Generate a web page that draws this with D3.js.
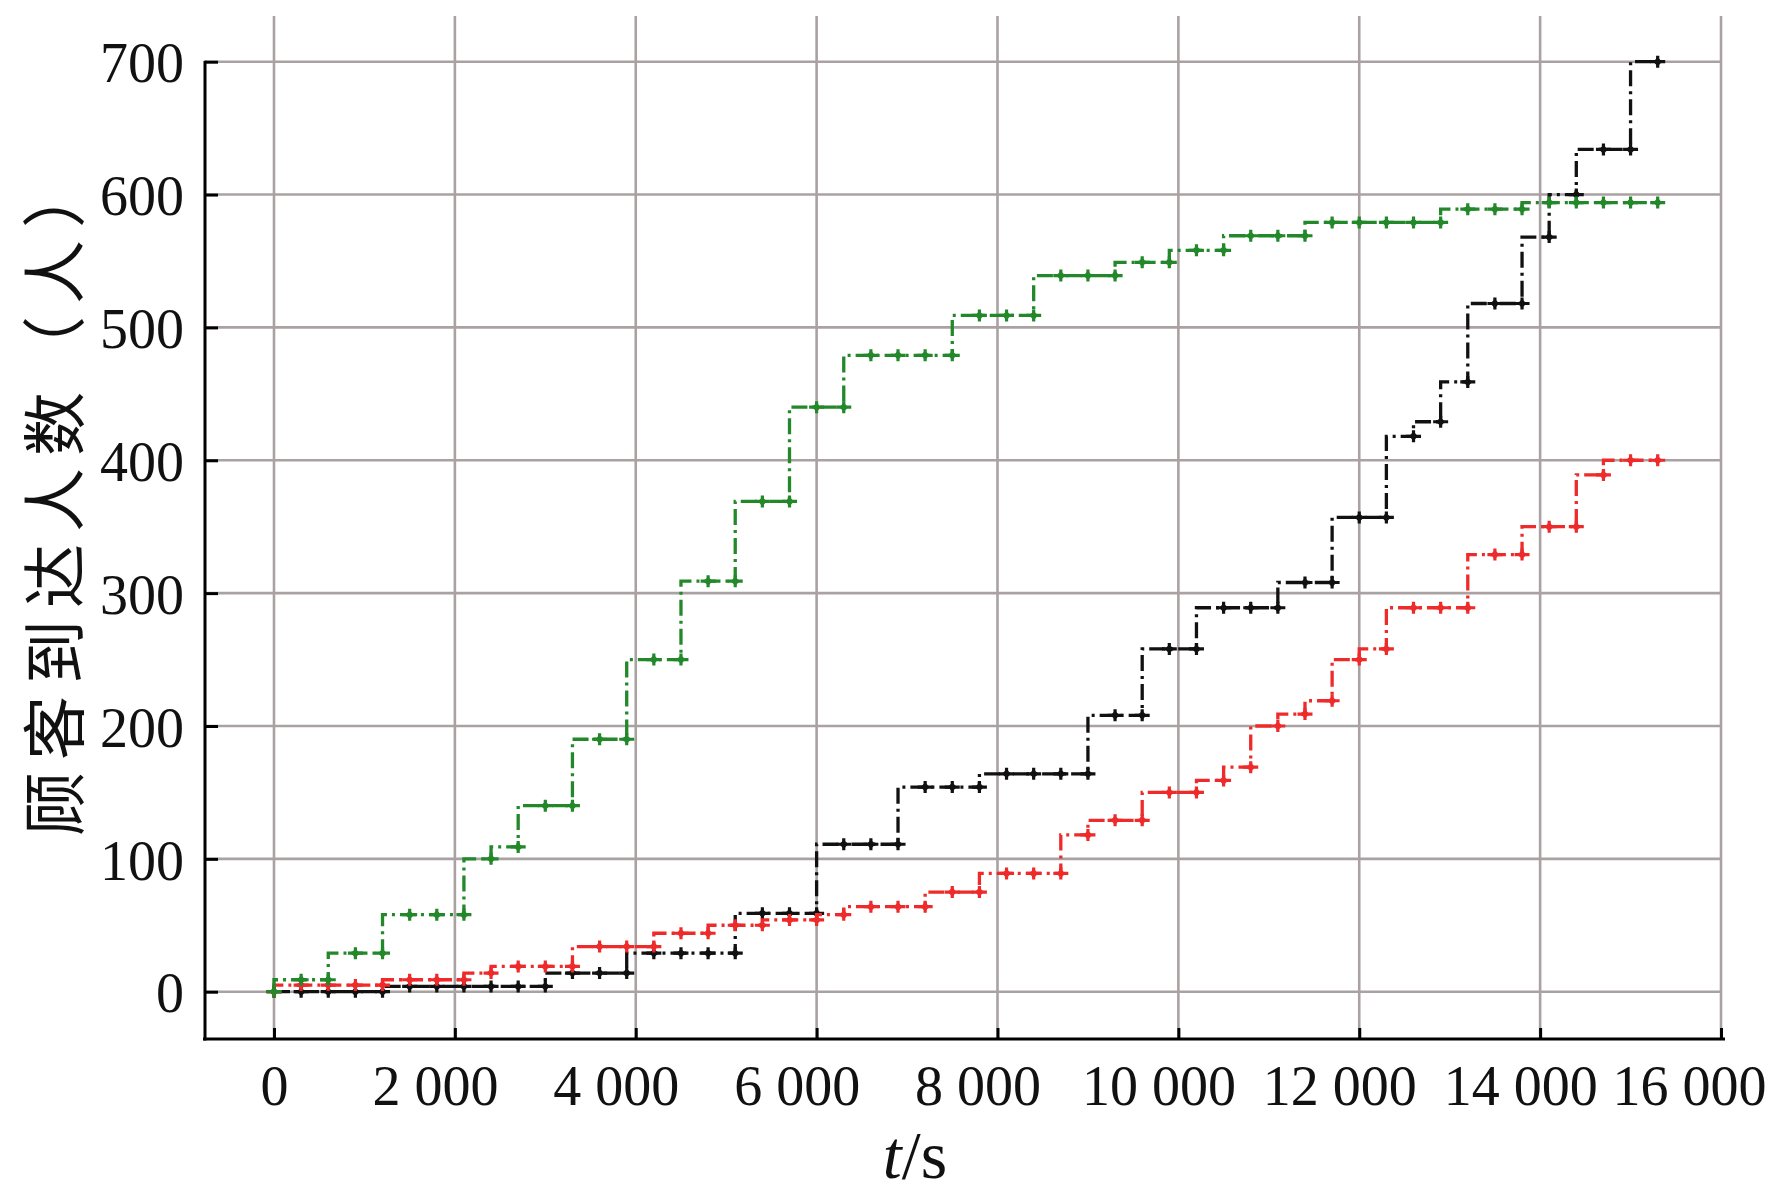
<!DOCTYPE html>
<html>
<head>
<meta charset="utf-8">
<script src="https://cdn.jsdelivr.net/npm/d3@7"></script>
<style>
  html, body { margin: 0; padding: 0; background: #ffffff; }
  svg { display: block; }
</style>
</head>
<body>
<svg id="chart" width="1772" height="1195"></svg>
<script>
// ---------------- data ----------------
const times = [0, 300, 600, 900, 1200, 1500, 1800, 2100, 2400, 2700,
  3000, 3300, 3600, 3900, 4200, 4500, 4800, 5100, 5400, 5700,
  6000, 6300, 6600, 6900, 7200, 7500, 7800, 8100, 8400, 8700,
  9000, 9300, 9600, 9900, 10200, 10500, 10800, 11100, 11400, 11700,
  12000, 12300, 12600, 12900, 13200, 13500, 13800, 14100, 14400, 14700,
  15000, 15300];

const seriesGreen = [0, 9, 9, 29, 29, 58, 58, 58, 100, 109,
  140, 140, 190, 190, 250, 250, 309, 309, 369, 369,
  440, 440, 479, 479, 479, 479, 509, 509, 509, 539,
  539, 539, 549, 549, 558, 558, 569, 569, 569, 579,
  579, 579, 579, 579, 589, 589, 589, 594, 594, 594,
  594, 594];

const seriesBlack = [0, 0, 0, 0, 0, 4, 4, 4, 4, 4,
  4, 14, 14, 14, 29, 29, 29, 29, 59, 59,
  59, 111, 111, 111, 154, 154, 154, 164, 164, 164,
  164, 208, 208, 258, 258, 289, 289, 289, 308, 308,
  357, 357, 418, 429, 459, 518, 518, 568, 600, 634,
  634, 700];

const seriesRed = [0, 5, 5, 5, 5, 9, 9, 9, 14, 19,
  19, 19, 34, 34, 34, 44, 44, 50, 50, 54,
  54, 58, 64, 64, 64, 75, 75, 89, 89, 89,
  118, 129, 129, 150, 150, 159, 169, 200, 209, 219,
  250, 258, 289, 289, 289, 329, 329, 350, 350, 389,
  400, 400];

const xTickValues = [0, 2000, 4000, 6000, 8000, 10000, 12000, 14000, 16000];
const xTickLabels = ["0", "2 000", "4 000", "6 000", "8 000", "10 000", "12 000", "14 000", "16 000"];
const yTickValues = [0, 100, 200, 300, 400, 500, 600, 700];
const yTickLabels = ["0", "100", "200", "300", "400", "500", "600", "700"];

const yTitle = "顾客到达人数（人）";

// ---------------- drawing ----------------
const svg = d3.select("#chart");
const x = d3.scaleLinear().domain([0, 16000]).range([274, 1721]);
const y = d3.scaleLinear().domain([0, 700]).range([991.7, 61.7]);

const axisLeftX = 205;
const axisBottomY = 1039;
const gridColor = "#aaa2a2";
const serif = "'Liberation Serif', 'Times New Roman', serif";

// grid
const grid = svg.append("g");
grid.selectAll("line.v").data(xTickValues).join("line")
  .attr("x1", d => x(d)).attr("x2", d => x(d))
  .attr("y1", 16).attr("y2", axisBottomY)
  .attr("stroke", gridColor).attr("stroke-width", 2.6);
grid.selectAll("line.h").data(yTickValues).join("line")
  .attr("x1", axisLeftX).attr("x2", x(16000))
  .attr("y1", d => y(d)).attr("y2", d => y(d))
  .attr("stroke", gridColor).attr("stroke-width", 2.6);

// axes
const gx = svg.append("g").attr("transform", `translate(0,${axisBottomY})`)
  .call(d3.axisBottom(x).tickValues(xTickValues)
    .tickFormat((d, i) => xTickLabels[i]).tickSizeInner(-11).tickSizeOuter(0));
gx.select(".domain").remove();
gx.selectAll(".tick line").attr("stroke", "#000").attr("stroke-width", 3);
gx.selectAll(".tick text").attr("y", 66).attr("dy", 0)
  .attr("dx", d => d === 0 ? 0 : (d === 16000 ? -32 : -20))
  .attr("font-family", serif).attr("font-size", 56).attr("fill", "#111");

const gy = svg.append("g").attr("transform", `translate(${axisLeftX},0)`)
  .call(d3.axisLeft(y).tickValues(yTickValues)
    .tickFormat((d, i) => yTickLabels[i]).tickSizeInner(-13).tickSizeOuter(0));
gy.select(".domain").remove();
gy.selectAll(".tick line").attr("stroke", "#000").attr("stroke-width", 3);
gy.selectAll(".tick text").attr("x", -21).attr("dy", "0.36em")
  .attr("font-family", serif).attr("font-size", 56).attr("fill", "#111");

svg.append("line").attr("x1", axisLeftX).attr("x2", axisLeftX)
  .attr("y1", y(700) - 1).attr("y2", axisBottomY + 1.5)
  .attr("stroke", "#000").attr("stroke-width", 3);
svg.append("line").attr("x1", 203).attr("x2", 1725)
  .attr("y1", axisBottomY).attr("y2", axisBottomY)
  .attr("stroke", "#000").attr("stroke-width", 3.2);

// series
const line = d3.line()
  .x(d => x(d[0])).y(d => y(d[1]))
  .curve(d3.curveStepBefore);

const seriesList = [
  { values: seriesBlack, color: "#111111" },
  { values: seriesRed, color: "#ee2a2a" },
  { values: seriesGreen, color: "#23882a" }
];

const markerPath = "M-7.5,0L7.5,0M0,-6L0,6";
const diamond = "M0,-4.5L4.5,0L0,4.5L-4.5,0Z";

seriesList.forEach(s => {
  const pts = times.map((t, i) => [t, s.values[i]]);
  const g = svg.append("g");
  g.append("path").datum(pts)
    .attr("d", line)
    .attr("fill", "none")
    .attr("stroke", s.color)
    .attr("stroke-width", 3.3)
    .attr("stroke-dasharray", "16,5,3,5");
  const m = g.selectAll("g.m").data(pts).join("g")
    .attr("transform", d => `translate(${x(d[0])},${y(d[1])})`);
  m.append("path").attr("d", markerPath)
    .attr("stroke", s.color).attr("stroke-width", 3.2).attr("fill", "none");
  m.append("path").attr("d", diamond).attr("fill", s.color);
});

// titles
svg.append("text")
  .attr("transform", "translate(50,494) rotate(-90)")
  .attr("text-anchor", "middle")
  .attr("dominant-baseline", "central")
  .attr("font-family", "'Noto Sans CJK SC', sans-serif")
  .attr("font-size", 64)
  .attr("letter-spacing", 12)
  .attr("fill", "#111")
  .text(yTitle);

const xt = svg.append("text")
  .attr("x", 915).attr("y", 1178)
  .attr("text-anchor", "middle")
  .attr("font-family", serif)
  .attr("font-size", 68)
  .attr("fill", "#111");
xt.append("tspan").attr("font-style", "italic").text("t");
xt.append("tspan").text("/s");
</script>
</body>
</html>
